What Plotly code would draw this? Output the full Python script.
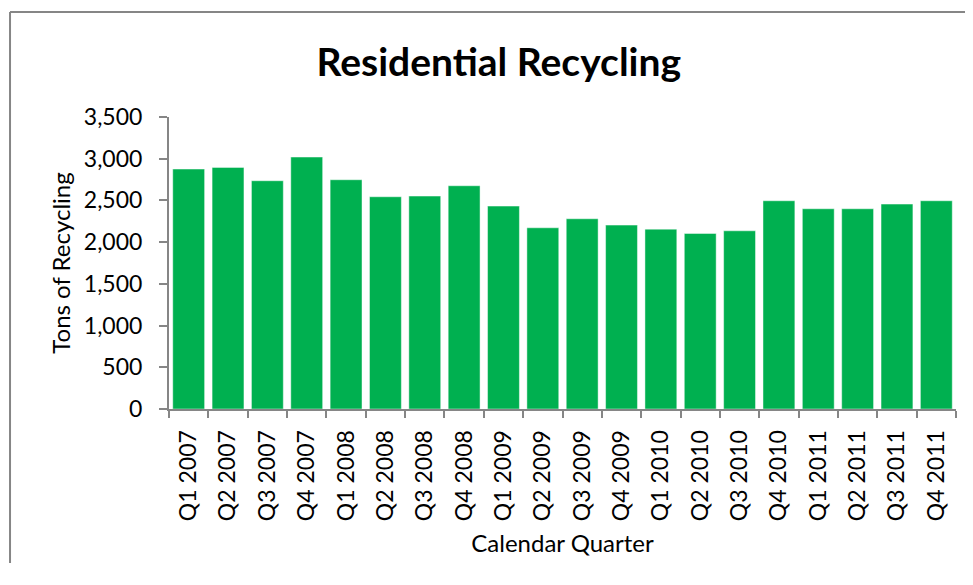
import plotly.graph_objects as go

quarters = [
    "Q1 2007", "Q2 2007", "Q3 2007", "Q4 2007",
    "Q1 2008", "Q2 2008", "Q3 2008", "Q4 2008",
    "Q1 2009", "Q2 2009", "Q3 2009", "Q4 2009",
    "Q1 2010", "Q2 2010", "Q3 2010", "Q4 2010",
    "Q1 2011", "Q2 2011", "Q3 2011", "Q4 2011",
]
tons = [
    2876, 2896, 2736, 3020,
    2748, 2544, 2552, 2676,
    2432, 2172, 2280, 2204,
    2156, 2104, 2136, 2496,
    2400, 2400, 2456, 2496,
]
y_ticks = [0, 500, 1000, 1500, 2000, 2500, 3000, 3500]

AXIS_GREY = '#868686'
FONT = 'Lato, Calibri, sans-serif'

fig = go.Figure()

fig.add_trace(go.Bar(
    x=quarters,
    y=tons,
    marker=dict(color='#00B050', line=dict(color='rgba(255,255,255,0.45)', width=1)),
    hoverinfo='x+y',
))

# outer chart-area border: only the left and top edges show in the reference
fig.add_shape(type='line', xref='paper', yref='paper',
              x0=-0.202, x1=-0.202, y0=-0.60, y1=1.36,
              line=dict(color=AXIS_GREY, width=2), layer='below')
fig.add_shape(type='line', xref='paper', yref='paper',
              x0=-0.202, x1=1.03, y0=1.36, y1=1.36,
              line=dict(color=AXIS_GREY, width=2), layer='below')

# page body has an 8px margin, so the figure is shifted by 8px
fig.update_layout(
    title=dict(
        text='<b>Residential Recycling</b>',
        font=dict(family=FONT, size=39, color='black'),
        x=0.419, xref='paper', xanchor='center',
        y=1 - 54 / 555, yref='container', yanchor='middle',
    ),
    width=957,
    height=555,
    plot_bgcolor='white',
    paper_bgcolor='white',
    margin=dict(l=161, r=9, t=109, b=154),
    bargap=0.19,
    showlegend=False,
    font=dict(family=FONT, color='black'),
    xaxis=dict(
        title=dict(text='Calendar Quarter', font=dict(family=FONT, size=24, color='black'), standoff=15),
        tickangle=-90,
        tickfont=dict(family=FONT, size=23, color='black'),
        showline=True, linecolor=AXIS_GREY, linewidth=2,
        ticks='outside', tickson='boundaries', ticklen=7, tickcolor=AXIS_GREY, tickwidth=2,
        ticklabelstandoff=10,
        showgrid=False,
    ),
    yaxis=dict(
        title=dict(text='Tons of Recycling', font=dict(family=FONT, size=24, color='black'), standoff=6),
        range=[0, 3500],
        tickvals=y_ticks,
        tickformat=',',
        tickfont=dict(family=FONT, size=23, color='black'),
        showline=True, linecolor=AXIS_GREY, linewidth=2,
        ticks='outside', ticklen=8, tickcolor=AXIS_GREY, tickwidth=2,
        ticklabelstandoff=12,
        showgrid=False, zeroline=False,
    ),
)

fig.write_html("out.html")
